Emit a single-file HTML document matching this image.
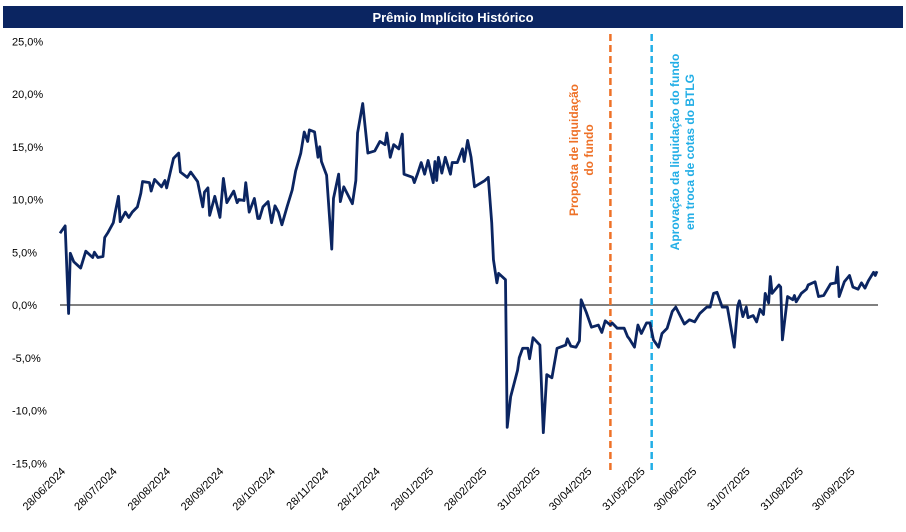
<!DOCTYPE html>
<html><head><meta charset="utf-8"><style>
body{margin:0;background:#fff;width:906px;height:527px;overflow:hidden;font-family:"Liberation Sans",sans-serif}
</style></head><body>
<svg id="chart" width="906" height="527" xmlns="http://www.w3.org/2000/svg" font-family="Liberation Sans, sans-serif">
<rect x="3" y="6" width="900" height="22" fill="#0b2561"/>
<text x="453" y="22" text-anchor="middle" fill="#fff" font-size="13" font-weight="bold">Prêmio Implícito Histórico</text>
<g id="yaxis"></g>
<g id="xaxis"></g>
<g id="marks"></g>
</svg>
<script>
const yTicks=[25,20,15,10,5,0,-5,-10,-15];
const yTickLabels=["25,0%","20,0%","15,0%","10,0%","5,0%","0,0%","-5,0%","-10,0%","-15,0%"];
const xTickDays=[0,30,61,92,122,153,183,214,245,276,306,337,367,398,429,459];
const xTickLabels=["28/06/2024","28/07/2024","28/08/2024","28/09/2024","28/10/2024","28/11/2024","28/12/2024","28/01/2025","28/02/2025","31/03/2025","30/04/2025","31/05/2025","30/06/2025","31/07/2025","31/08/2025","30/09/2025"];
const days=[0,3,5,6,8,12,15,19,20,22,25,26,28,31,32,34,35,38,40,42,45,47,48,52,53,55,59,61,62,66,69,70,74,76,80,83,84,86,87,90,93,95,97,101,103,104,107,108,110,113,115,116,118,121,123,125,127,129,132,135,137,140,142,144,145,148,150,151,152,155,158,159,162,163,165,170,172,173,176,179,183,186,189,190,192,194,197,199,200,205,206,208,210,212,214,217,218,219,220,222,224,227,228,231,234,235,237,239,241,247,249,251,252,254,255,259,260,262,266,267,269,272,273,275,279,281,283,286,289,294,295,297,300,302,303,306,309,313,315,317,320,321,324,328,330,331,334,336,338,341,343,345,348,350,353,356,358,363,366,369,372,376,378,380,382,385,388,391,392,394,395,397,399,400,403,405,407,409,410,412,413,414,418,419,420,423,426,427,428,431,434,435,439,441,444,448,451,452,453,456,459,461,464,466,468,470,473,474,475];
const values=[6.8,7.5,-0.8,4.9,4.1,3.5,5.1,4.5,5.0,4.5,4.6,6.4,6.9,7.8,8.7,10.3,7.9,8.8,8.3,8.8,9.3,10.6,11.7,11.6,10.8,11.9,11.2,11.8,11.1,13.9,14.4,12.6,12.1,12.6,11.7,9.3,10.7,11.1,8.5,10.3,8.3,12.0,9.7,10.8,9.7,10.0,9.9,11.6,8.8,10.1,8.2,8.2,9.3,9.8,7.8,9.4,8.8,7.6,9.3,10.9,12.7,14.4,16.4,15.5,16.6,16.4,14.0,15.0,13.6,12.3,5.3,10.1,12.4,9.8,11.2,9.6,11.8,16.3,19.1,14.4,14.6,15.5,15.2,16.3,14.0,15.2,14.8,16.2,12.4,12.1,11.6,12.5,13.5,12.4,13.7,11.6,13.6,11.8,14.0,12.5,14.0,12.4,13.5,13.5,14.8,13.6,15.6,14.0,11.2,11.8,12.1,7.8,4.3,2.1,3.0,2.4,-11.6,-8.7,-6.2,-5.0,-4.1,-4.1,-5.1,-3.1,-3.8,-12.1,-6.6,-6.9,-4.1,-3.8,-3.2,-3.9,-4.0,-3.4,0.5,-0.7,-2.1,-1.9,-2.6,-1.5,-1.9,-1.7,-2.2,-2.2,-3.0,-3.2,-4.0,-1.9,-2.7,-1.7,-1.7,-3.3,-4.0,-2.7,-2.2,-0.6,-0.2,-1.8,-1.4,-1.6,-0.8,-0.2,-0.2,1.1,1.2,-0.2,-0.2,-3.0,-4.0,-0.1,0.4,-1.1,-0.2,-1.2,-1.0,-1.6,-0.4,-0.9,1.1,0.2,2.7,1.1,1.9,1.7,-3.3,0.8,0.5,0.9,0.3,1.1,1.5,1.9,2.2,0.8,0.9,2.0,2.1,3.6,0.8,2.2,2.8,1.7,1.5,2.1,1.6,2.3,3.1,2.8,3.2];
const eventDays=[320,344];
const NS="http://www.w3.org/2000/svg";
const X=d=>60+d*1.72;
const Y=v=>305-v*10.55;
function mk(tag,attrs,parent,txt){const e=document.createElementNS(NS,tag);for(const k in attrs)e.setAttribute(k,attrs[k]);if(txt!==undefined)e.textContent=txt;parent.appendChild(e);return e;}
const ya=document.getElementById('yaxis'),xa=document.getElementById('xaxis'),mg=document.getElementById('marks');
yTicks.forEach((t,i)=>{const e=mk('text',{x:12,y:Y(t)+4,'font-size':11,fill:'#000'},ya,yTickLabels[i]);

});
xTickDays.forEach((d,i)=>{const x=X(d)+6,y=472;const e=mk('text',{x:x,y:y,'font-size':11,fill:'#000','text-anchor':'end',transform:`rotate(-45 ${x} ${y})`},xa,xTickLabels[i]);

});
const z=mk('line',{x1:60,x2:878,y1:Y(0),y2:Y(0),stroke:'#000','stroke-width':1},mg);


const cols=['#ee7127','#22aee6'];
eventDays.forEach((d,i)=>{const l=mk('line',{x1:X(d),x2:X(d),y1:34,y2:470,stroke:cols[i],'stroke-width':2.5,'stroke-dasharray':'7,4'},mg);

});
const p=mk('polyline',{points:days.map((d,i)=>X(d)+','+Y(values[i])).join(' '),fill:'none',stroke:'#0b2561','stroke-width':2.8,'stroke-linejoin':'round'},mg);


</script>
<svg style="position:absolute;left:0;top:0" width="906" height="527" xmlns="http://www.w3.org/2000/svg" font-family="Liberation Sans, sans-serif" font-weight="bold" font-size="12">
<g transform="translate(578,150) rotate(-90)" fill="#ee7127" text-anchor="middle">
<text x="0" y="0">Proposta de liquidação</text><text x="0" y="15">do fundo</text></g>
<g transform="translate(679,152) rotate(-90)" fill="#22aee6" text-anchor="middle">
<text x="0" y="0">Aprovação da liquidação do fundo</text><text x="0" y="15">em troca de cotas do BTLG</text></g>
</svg>
</body></html>
